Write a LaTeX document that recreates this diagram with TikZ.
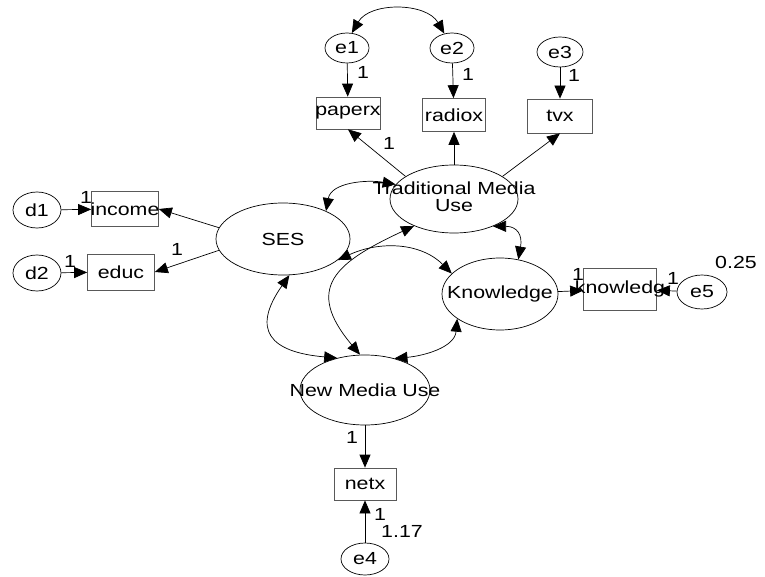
\documentclass[tikz,border=0pt]{standalone}
\usepackage{fontspec}
\setmainfont{Liberation Sans}[FakeStretch=1.22]
\usepackage{tikz}
\usetikzlibrary{shapes.geometric}
\usetikzlibrary{arrows.meta}
\newcommand{\ctext}[1]{\makebox[0pt]{#1}}

\begin{document}
\begin{tikzpicture}[
x = 1pt, y = 1pt,
font = \fontsize{17.5}{16}\selectfont,
latent/.style={ellipse, draw = black, line width = 0.7pt, inner sep = 0pt},
errell/.style={ellipse, draw = black, line width = 0.7pt, inner sep = 0pt, minimum width = 46pt, minimum height = 32pt},
obsrect/.style={rectangle, draw = black!65, line width = 0.7pt, inner sep = 0pt, minimum width = 65pt, minimum height = 33pt},
patharr/.style={-{Triangle[length=13pt,width=11pt]}, line width = 0.7pt, draw = black},
covarr/.style={{Triangle[length=13pt,width=11pt]}-{Triangle[length=13pt,width=11pt]}, line width = 0.7pt, draw = black},
wgt/.style={inner sep = 0pt}]

\useasboundingbox (0,0) rectangle (765,-577);

% latent variables
\node[latent, minimum width = 134pt, minimum height = 72pt] (ses) at (283,-239) {\ctext{SES}};
\node[latent, minimum width = 128pt, minimum height = 68pt] (tmu) at (454,-199) {\ctext{\begin{tabular}{@{}c@{}}Traditional Media\\Use\end{tabular}}};
\node[latent, minimum width = 116pt, minimum height = 72pt] (know) at (500,-294) {\ctext{Knowledge}};
\node[latent, minimum width = 130pt, minimum height = 70pt] (nmu) at (365,-390) {\ctext{New Media Use}};

% observed variables
\node[obsrect, minimum width = 64pt, minimum height = 32pt] (paperx) at (348,-113) {\ctext{paperx}};
\node[obsrect, minimum width = 63pt, minimum height = 33pt] (radiox) at (454,-115) {\ctext{radiox}};
\node[obsrect, minimum width = 65pt, minimum height = 34pt] (tvx) at (560,-116) {\ctext{tvx}};
\node[obsrect, minimum width = 67pt, minimum height = 35pt] (income) at (125,-209) {\ctext{income}};
\node[obsrect, minimum width = 67pt, minimum height = 36pt] (educ) at (121,-272) {\ctext{educ}};
\node[obsrect, minimum width = 73pt, minimum height = 42pt] (knowbox) at (620,-289) {\ctext{knowledg}};
\node[obsrect, minimum width = 62pt, minimum height = 32pt] (netx) at (365,-484) {\ctext{netx}};

% error terms
\node[errell, minimum width = 44pt, minimum height = 30pt] (e1) at (347,-48) {\ctext{e1}};
\node[errell, minimum width = 44pt, minimum height = 30pt] (e2) at (452,-48) {\ctext{e2}};
\node[errell, minimum width = 46pt, minimum height = 30pt] (e3) at (560,-52) {\ctext{e3}};
\node[errell, minimum width = 48pt, minimum height = 32pt] (e4) at (365,-559) {\ctext{e4}};
\node[errell, minimum width = 50pt, minimum height = 34pt] (e5) at (702,-292) {\ctext{e5}};
\node[errell, minimum width = 48pt, minimum height = 36pt] (d1) at (37,-210) {\ctext{d1}};
\node[errell, minimum width = 48pt, minimum height = 36pt] (d2) at (37,-273) {\ctext{d2}};

% regression paths
\draw[patharr] (e1) -- (paperx);
\draw[patharr] (e2) -- (radiox);
\draw[patharr] (e3) -- (tvx);
\draw[patharr] (tmu.155) -- (paperx.south);
\draw[patharr] (tmu.north) -- (radiox.south);
\draw[patharr] (tmu.25) -- (tvx.south);
\draw[patharr] (d1) -- (income);
\draw[patharr] (d2) -- (educ);
\draw[patharr] (ses.170) -- (income.east);
\draw[patharr] (ses.190) -- (educ.east);
\draw[patharr] (know) -- (knowbox);
\draw[patharr] (e5) -- (knowbox);
\draw[patharr] (nmu) -- (netx);
\draw[patharr] (e4) -- (netx);

% covariances
\draw[covarr] (e1.72) to[out=60, in=120] (e2.118);
\draw[covarr] (ses.33) to[out=80, in=170] (tmu.166);
\draw[covarr] (ses.339) to[out=25, in=135] (know.157);
\draw[covarr] (ses.280) to[out=235, in=175, looseness=1.8] (nmu.131);
\draw[covarr] (tmu.214) to[out=205, in=130, looseness=1.6] (nmu.98);
\draw[covarr] (tmu.325) to[out=0, in=80, looseness=1.5] (know.62);
\draw[covarr] (know.210) to[out=265, in=5] (nmu.47);

% weights and variances
\node[wgt] (w1) at (363,-72) {1};
\node[wgt] (w2) at (468,-74) {1};
\node[wgt] (w3) at (574,-75) {1};
\node[wgt] (w4) at (389,-143) {1};
\node[wgt] (w5) at (86,-197) {1};
\node[wgt] (w6) at (70,-261) {1};
\node[wgt] (w7) at (177,-249) {1};
\node[wgt] (w8) at (578,-274) {1};
\node[wgt] (w9) at (673,-278) {1};
\node[wgt] (w10) at (352,-437) {1};
\node[wgt] (w11) at (380,-514) {1};
\node[wgt] (v5) at (736,-262) {0.25};
\node[wgt] (v4) at (402,-531) {1.17};

\end{tikzpicture}
\end{document}
